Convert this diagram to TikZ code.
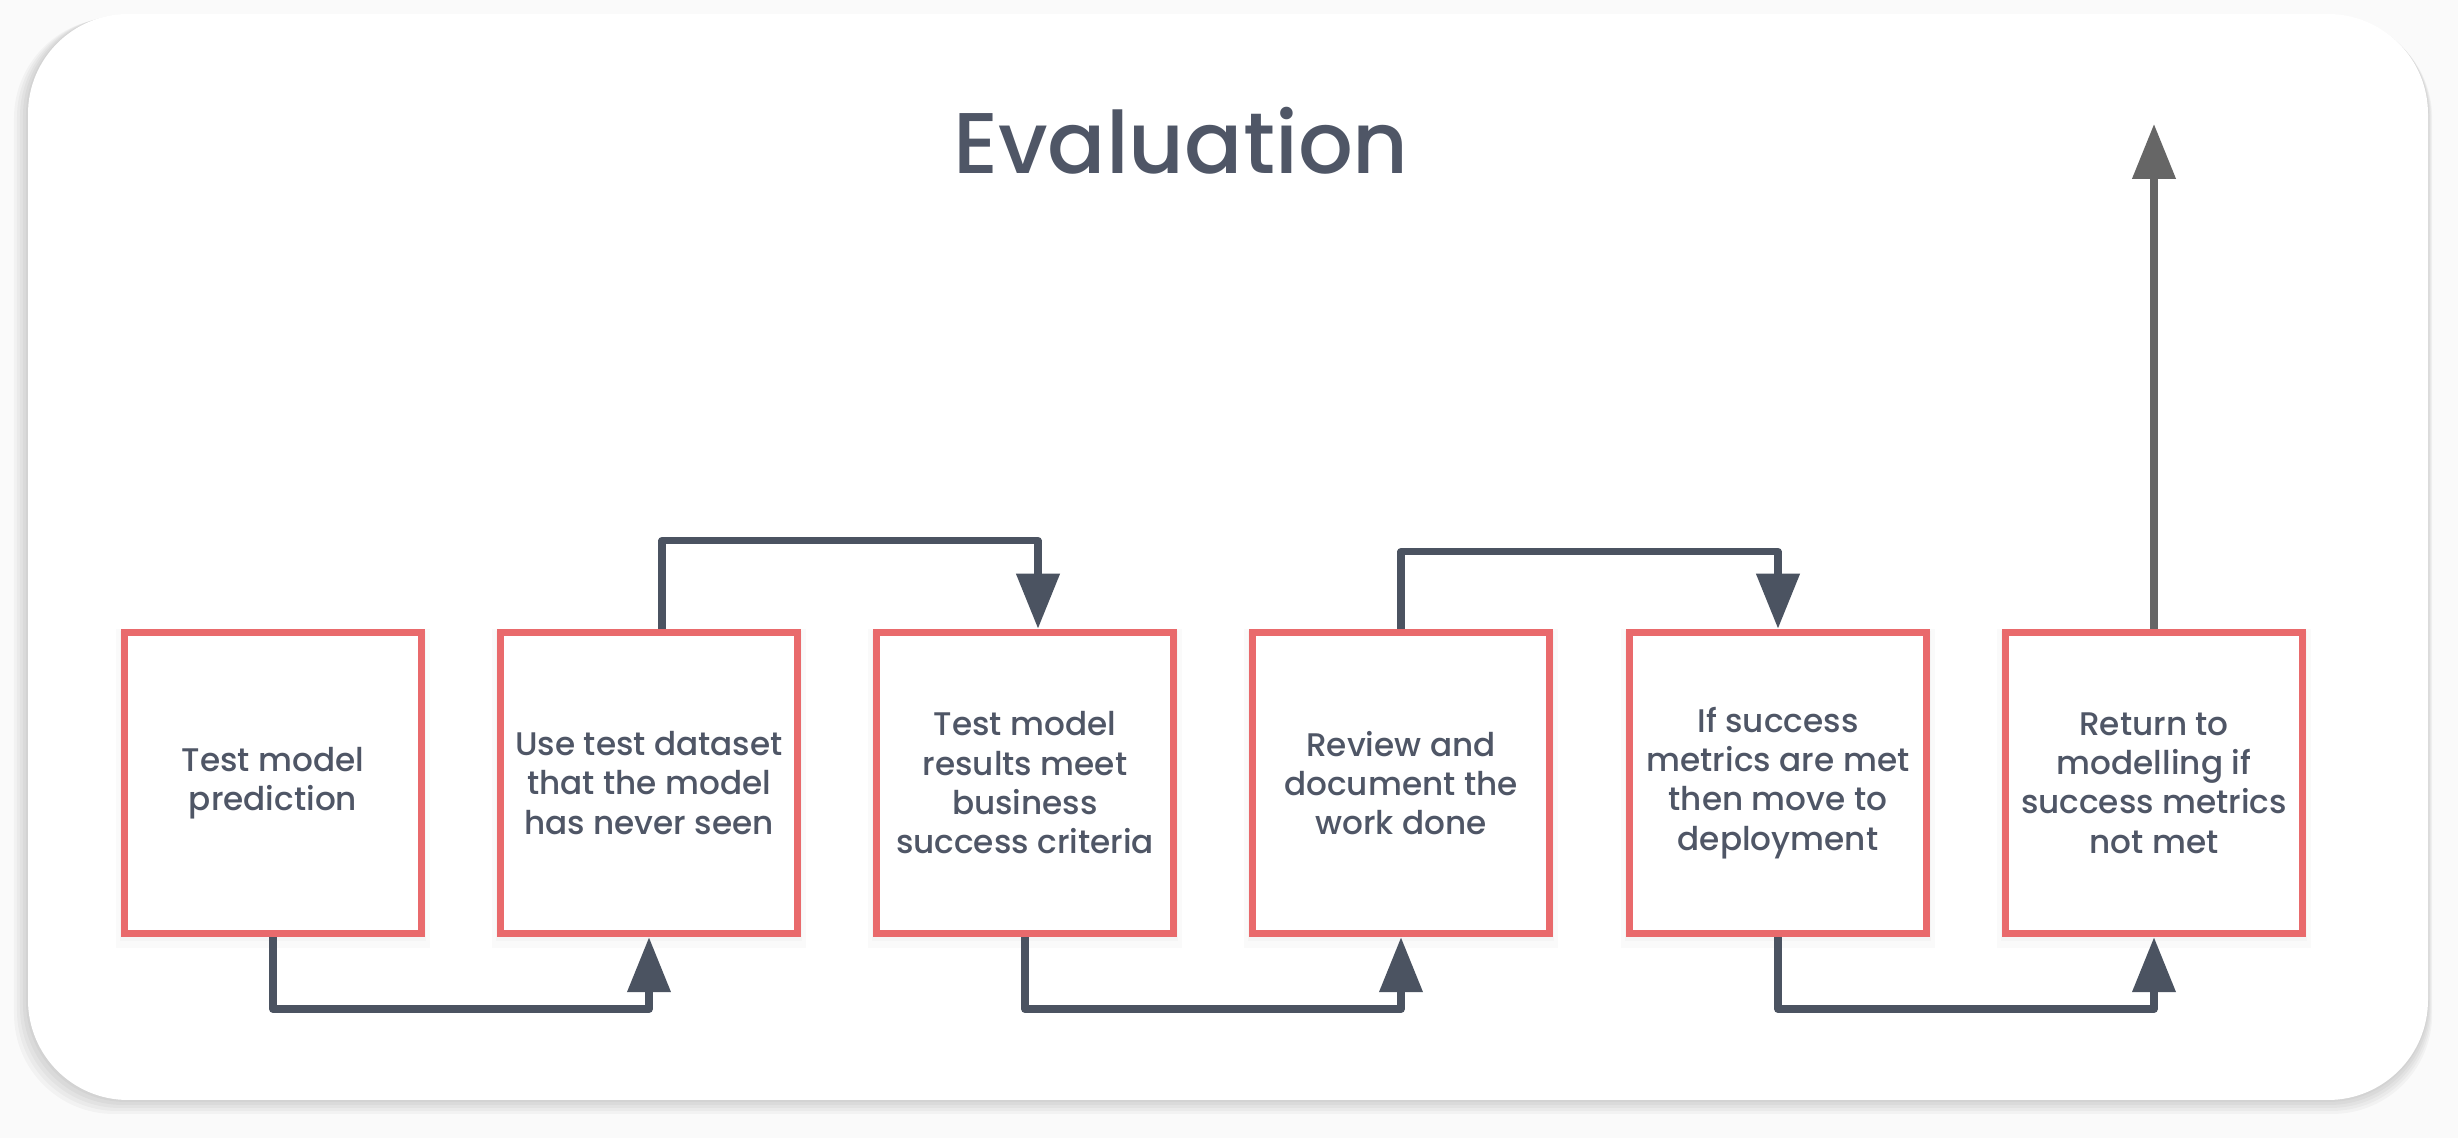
\documentclass[tikz,border=0pt]{standalone}
\usepackage{fontspec}
\setmainfont{Poppins}
\newfontfamily\titlefont{Poppins Medium}
\newfontfamily\boxfont{Poppins Medium}
\usetikzlibrary{arrows.meta,shadows}

\definecolor{ink}{HTML}{4F5666}
\definecolor{wire}{HTML}{4B5361}
\definecolor{edge}{HTML}{E96A6C}
\definecolor{upgray}{HTML}{666666}

\tikzset{
    stepbox/.style={draw=edge, line width=0.075cm, fill=white, minimum width=2.97cm,
        minimum height=3.01cm, align=center, text=ink, inner sep=0pt,
        font=\boxfont\fontsize{9.3}{11.2}\selectfont,
        drop shadow={shadow xshift=0pt, shadow yshift=-0.05cm, shadow scale=1.06, opacity=0.035},
        drop shadow={shadow xshift=0pt, shadow yshift=-0.03cm, shadow scale=1.03, opacity=0.04}},
    conn/.style={draw=wire, line width=0.075cm, line join=round,
        -{Triangle[length=0.55cm, width=0.42cm]}}
}

\begin{document}
\begin{tikzpicture}
    \useasboundingbox (0,0) rectangle (24.58,11.38);
    \fill[white!98!black] (0,0) rectangle (24.58,11.38);
    % card with soft shadow
    \foreach \s in {0.02,0.05,0.08,0.11,0.14}
        \fill[black, opacity=0.03, rounded corners=1cm] (0.28-\s,0.38-\s) rectangle (24.28+0.3*\s,11.24-0.3*\s);
    \fill[white, rounded corners=1cm] (0.28,0.38) rectangle (24.28,11.24);

    \node[text=ink, font=\titlefont\fontsize{24.5}{30}\selectfont] (title) at (11.81,9.97) {Evaluation};

    % boxes
    \node[stepbox] (b1) at (2.73,3.55) {Test model\\prediction};
    \node[stepbox] (b2) at (6.49,3.55) {Use test dataset\\that the model\\has never seen};
    \node[stepbox] (b3) at (10.25,3.55) {Test model\\results meet\\business\\success criteria};
    \node[stepbox] (b4) at (14.01,3.55) {Review and\\document the\\work done};
    \node[stepbox] (b5) at (17.78,3.55) {If success\\metrics are met\\then move to\\deployment};
    \node[stepbox] (b6) at (21.54,3.55) {Return to\\modelling if\\success metrics\\not met};
    \coordinate (out) at (21.54,10.14);

    % connectors
    \draw[conn] (b1.south) -- ++(0,-0.72) -| (b2.south);
    \draw[conn] ([xshift=0.13cm]b2.north) -- ++(0,0.88) -| ([xshift=0.13cm]b3.north);
    \draw[conn] (b3.south) -- ++(0,-0.72) -| (b4.south);
    \draw[conn] (b4.north) -- ++(0,0.77) -| (b5.north);
    \draw[conn] (b5.south) -- ++(0,-0.72) -| (b6.south);
    \draw[conn, draw=upgray] (b6.north) -- (out);
\end{tikzpicture}
\end{document}
